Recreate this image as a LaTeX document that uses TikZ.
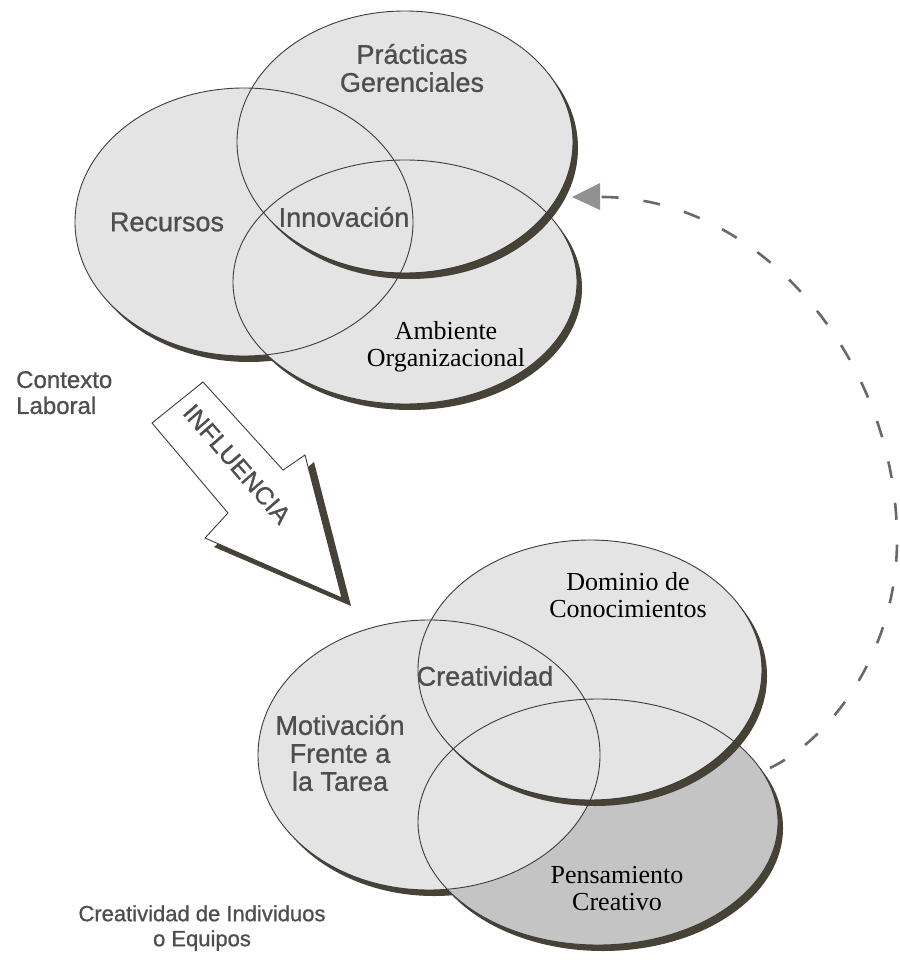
\documentclass[tikz,border=0pt]{standalone}
\usepackage{fontspec}
\setmainfont{Liberation Serif}
\newfontfamily\arialf[FakeBold=0.9]{Liberation Sans}
\usetikzlibrary{arrows.meta}
\definecolor{fillL}{RGB}{228,228,228}
\definecolor{fillD}{RGB}{196,196,196}
\definecolor{shad}{RGB}{70,66,54}
\definecolor{outl}{RGB}{60,60,60}
\definecolor{sanstxt}{RGB}{78,78,78}
\definecolor{dashc}{RGB}{105,105,105}
\definecolor{headc}{RGB}{145,145,145}
\tikzset{
  outline/.style={draw=outl, line width=0.9pt},
  sanslab/.style={font=\arialf\fontsize{27}{28}\selectfont, text=sanstxt, align=center, inner sep=0pt},
  seriflab/.style={font=\fontsize{26}{27}\selectfont, text=black, align=center, inner sep=0pt},
  outerlab/.style={font=\arialf\fontsize{24}{26}\selectfont, text=sanstxt, inner sep=0pt},
  feedback/.style={draw=dashc, line width=2.6pt, dash pattern=on 17pt off 25pt},
}
% crescent shadow: #1 center, #2 rx, #3 ry
\newcommand{\ellshadow}[3]{%
  \begin{scope}
    \clip ([shift={(5,6)}]#1) ellipse [x radius=#2, y radius=#3];
    \fill[shad, even odd rule] (-50,-50) rectangle (950,1020) (#1) ellipse [x radius=#2, y radius=#3];
  \end{scope}}
\begin{document}
\begin{tikzpicture}[x=1pt,y=-1pt]
\useasboundingbox (0,0) rectangle (899,965);
% ---------- centres ----------
\coordinate (cP) at (405,142);
\coordinate (cR) at (244,222);
\coordinate (cA) at (405,282);
\coordinate (cD) at (590,670);
\coordinate (cM) at (429,755);
\coordinate (cC) at (598,822);
% ---------- top group ----------
\ellshadow{cR}{169}{134}
\ellshadow{cA}{172}{122}
\fill[fillL] (cR) ellipse [x radius=169, y radius=134];
\fill[fillL] (cA) ellipse [x radius=172, y radius=122];
\fill[fillL] (cP) ellipse [x radius=168, y radius=131];
\ellshadow{cP}{168}{131}
\draw[outline] (cR) ellipse [x radius=169, y radius=134];
\draw[outline] (cA) ellipse [x radius=172, y radius=122];
\draw[outline] (cP) ellipse [x radius=168, y radius=131];
% ---------- bottom group ----------
\ellshadow{cM}{171}{135}
\ellshadow{cC}{180}{123}
\fill[fillD] (cC) ellipse [x radius=180, y radius=123];
\fill[fillL] (cM) ellipse [x radius=171, y radius=135];
\fill[fillL] (cD) ellipse [x radius=172, y radius=130];
\ellshadow{cD}{172}{130}
\draw[outline] (cM) ellipse [x radius=171, y radius=135];
\draw[outline] (cC) ellipse [x radius=180, y radius=123];
\draw[outline] (cD) ellipse [x radius=172, y radius=130];
% ---------- labels ----------
\node[sanslab] (practicas) at (412,68) {Prácticas\\Gerenciales};
\node[sanslab] (recursos) at (167,222) {Recursos};
\node[sanslab] (innov) at (344,217) {Innovación};
\node[seriflab] (ambiente) at (446,347) {Ambiente\\Organizacional};
\node[outerlab, align=left, anchor=north west] (contexto) at (16,371) {Contexto\\Laboral};
\node[seriflab] (dominio) at (628,595) {Dominio de\\Conocimientos};
\node[sanslab] (creat) at (485,676) {Creatividad};
\node[sanslab] (motiv) at (340,753) {Motivación\\Frente a\\la Tarea};
\node[seriflab] (pensam) at (617,889) {Pensamiento\\Creativo};
\node[outerlab, font=\arialf\fontsize{22}{25}\selectfont, align=center] (indiv) at (202,928) {Creatividad de Individuos\\o Equipos};
% ---------- INFLUENCIA arrow ----------
\fill[shad] (314,462) -- (351,606) -- (214,547) -- cycle;
\draw[outl, fill=white, line width=0.9pt, line join=miter]
  (152,423) -- (203,382) -- (283,470) -- (305,455) -- (342,598) -- (205,538) -- (228,513) -- cycle;
\node[font=\arialf\fontsize{25}{26}\selectfont, text=sanstxt, rotate=-49, inner sep=0pt] (influ) at (237,464) {INFLUENCIA};
% ---------- feedback arrow ----------
\coordinate (fbS) at (770,768);
\coordinate (fbM) at (897,540);
\coordinate (fbT) at (572,197);
\draw[feedback] (fbS) .. controls (832,738) and (897,650) .. (fbM)
  .. controls (897,360) and (760,195) .. ([xshift=26]fbT);
\fill[headc] (fbT) -- ([shift={(28,-14)}]fbT) -- ([shift={(28,13)}]fbT) -- cycle;
\end{tikzpicture}
\end{document}
